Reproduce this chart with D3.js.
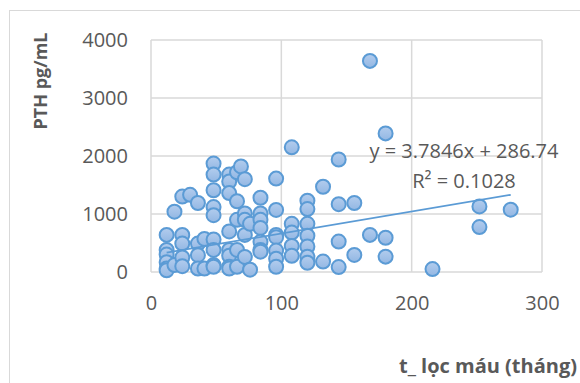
<!DOCTYPE html>
<html>
<head>
<meta charset="utf-8">
<script src="https://cdn.jsdelivr.net/npm/d3@7"></script>
<style>
  body { margin: 0; background: #fff; }
  svg { display: block; font-family: "Open Sans", sans-serif; }
</style>
</head>
<body>
<svg id="svg" width="580" height="383"></svg>
<script>
// thời gian lọc máu (tháng) và PTH pg/mL
var months = [
  12, 12, 12, 12, 12, 12,
  18, 18,
  24, 24, 24, 24, 24,
  30,
  36, 36, 36, 36,
  41, 41,
  48, 48, 48, 48, 48, 48, 48, 48, 48,
  60, 60, 60, 60, 60, 60, 60, 60,
  66, 66, 66, 66, 66,
  69,
  72, 72, 72, 72, 72,
  76, 76,
  84, 84, 84, 84, 84, 84, 84,
  96, 96, 96, 96, 96, 96, 96,
  108, 108, 108, 108, 108,
  120, 120, 120, 120, 120, 120, 120,
  132, 132,
  144, 144, 144, 144,
  156, 156,
  168, 168,
  180, 180, 180,
  216,
  252, 252,
  276
];
var pth = [
  640, 380, 300, 170, 60, 30,
  1040, 120,
  1300, 640, 490, 250, 100,
  1330,
  1190, 490, 290, 60,
  570, 60,
  1870, 1680, 1410, 1120, 980, 560, 380, 120, 90,
  1680, 1560, 1360, 700, 380, 280, 90, 60,
  1720, 1220, 900, 380, 90,
  1820,
  1600, 1010, 900, 640, 260,
  830, 40,
  1280, 1010, 900, 760, 520, 380, 350,
  1610, 1070, 640, 600, 370, 230, 90,
  2150, 830, 680, 450, 280,
  1230, 1085, 830, 625, 440, 265, 160,
  1470, 180,
  1940, 1170, 525, 85,
  1190, 295,
  3640, 640,
  2390, 590, 265,
  50,
  1130, 775,
  1075
];
var xTicks = [0, 100, 200, 300];
var yTicks = [0, 1000, 2000, 3000, 4000];

// đường xu hướng tuyến tính
var slope = 3.7846,
  intercept = 286.74;
var eqLabel = 'y = 3.7846x + 286.74',
  r2Label = 'R² = 0.1028';

var data = months.map(function (m, i) {
  return { x: m, y: pth[i] };
});

/* khung vẽ */
var plot = { left: 151, right: 542, top: 40, bottom: 272 };

var scaleX = d3.scaleLinear()
  .domain([0, 300])
  .range([plot.left, plot.right]);

var scaleY = d3.scaleLinear()
  .domain([0, 4000])
  .range([plot.bottom, plot.top]);

var s = d3.select('#svg');

var defs = s.append('defs');
var grad = defs.append('linearGradient')
  .attr('id', 'mk')
  .attr('x1', 0).attr('y1', 0).attr('x2', 0).attr('y2', 1);
grad.append('stop').attr('offset', '0%').attr('stop-color', '#b3cdee');
grad.append('stop').attr('offset', '100%').attr('stop-color', '#93b7e3');

// viền ngoài của biểu đồ
s.append('rect')
  .attr('x', 9.5)
  .attr('y', 10.5)
  .attr('width', 640)
  .attr('height', 420)
  .attr('fill', 'none')
  .attr('stroke', '#d9d9d9')
  .attr('stroke-width', 1);

// lưới
var grid = s.append('g').attr('stroke', '#d9d9d9').attr('stroke-width', 1.5);

grid.selectAll('line.gy')
  .data(yTicks)
  .enter()
  .append('line')
  .attr('x1', plot.left)
  .attr('x2', plot.right)
  .attr('y1', function (d) { return scaleY(d); })
  .attr('y2', function (d) { return scaleY(d); });

grid.selectAll('line.gx')
  .data(xTicks)
  .enter()
  .append('line')
  .attr('y1', plot.top)
  .attr('y2', plot.bottom)
  .attr('x1', function (d) { return scaleX(d); })
  .attr('x2', function (d) { return scaleX(d); });

// nhãn trục
var axisY = d3.axisLeft(scaleY).tickValues(yTicks).tickFormat(d3.format('d'))
  .tickSize(0).tickPadding(23);
var axisX = d3.axisBottom(scaleX).tickValues(xTicks).tickFormat(d3.format('d'))
  .tickSize(0).tickPadding(24);

var gy = s.append('g')
  .attr('transform', 'translate(' + plot.left + ',0)')
  .call(axisY);
var gx = s.append('g')
  .attr('transform', 'translate(0,' + plot.bottom + ')')
  .call(axisX);

[gy, gx].forEach(function (g) {
  g.select('.domain').remove();
  g.selectAll('text')
    .attr('font-family', '"Open Sans", sans-serif')
    .attr('font-size', 20)
    .attr('fill', '#595959');
});

// điểm
s.append('g')
  .selectAll('circle')
  .data(data)
  .enter()
  .append('circle')
  .attr('cx', function (d) { return scaleX(d.x); })
  .attr('cy', function (d) { return scaleY(d.y); })
  .attr('r', 7)
  .attr('fill', 'url(#mk)')
  .attr('stroke', '#5b9bd5')
  .attr('stroke-width', 2);

// đường xu hướng
var xr = d3.extent(months);
s.append('line')
  .attr('x1', scaleX(xr[0]))
  .attr('y1', scaleY(slope * xr[0] + intercept))
  .attr('x2', scaleX(xr[1]))
  .attr('y2', scaleY(slope * xr[1] + intercept))
  .attr('stroke', '#5b9bd5')
  .attr('stroke-width', 1.75);

s.append('text')
  .attr('x', 464)
  .attr('y', 158)
  .attr('text-anchor', 'middle')
  .attr('font-size', 20)
  .attr('fill', '#595959')
  .text(eqLabel);

s.append('text')
  .attr('x', 464)
  .attr('y', 188)
  .attr('text-anchor', 'middle')
  .attr('font-size', 20)
  .attr('fill', '#595959')
  .text(r2Label);

// tiêu đề trục
s.append('text')
  .attr('transform', 'translate(47,81) rotate(-90)')
  .attr('text-anchor', 'middle')
  .attr('font-size', 18)
  .attr('font-weight', 'bold')
  .attr('fill', '#595959')
  .text('PTH pg/mL');

s.append('text')
  .attr('x', 577)
  .attr('y', 373)
  .attr('text-anchor', 'end')
  .attr('font-size', 20)
  .attr('font-weight', 'bold')
  .attr('fill', '#595959')
  .text('t_ lọc máu (tháng)');
</script>
</body>
</html>
